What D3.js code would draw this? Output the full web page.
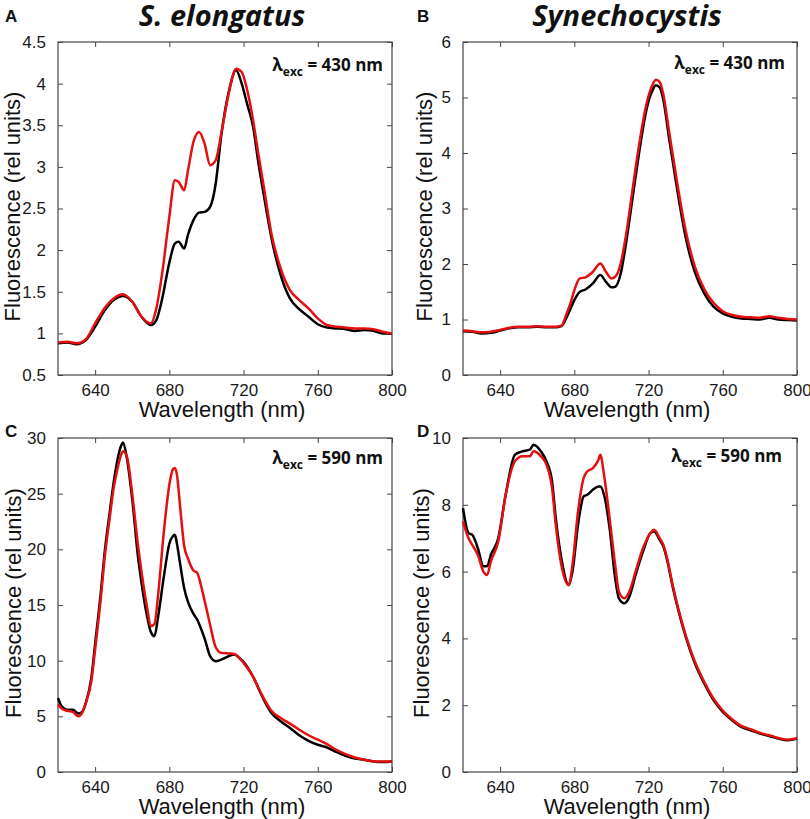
<!DOCTYPE html>
<html><head><meta charset="utf-8">
<script src="https://cdn.jsdelivr.net/npm/d3@7"></script>
<style>
html,body{margin:0;padding:0;background:#fff;}
svg{display:block;}
</style></head>
<body>
<script>
// ---------------- DATA ----------------
const xTicks = [640, 680, 720, 760, 800];

const wlA = [620,625,630,635,640,645,650,655,660,665,670,673,676,680,683,685,688,690,693,696,699,702,705,708,712,716,719,722,725,728,731,735,740,745,750,755,760,765,770,775,780,785,790,795,800];
const blackA = [.88,.89,.87,.92,1.08,1.27,1.40,1.45,1.38,1.20,1.10,1.16,1.40,1.85,2.08,2.10,2.02,2.18,2.36,2.45,2.46,2.52,2.80,3.38,3.90,4.16,4.00,3.75,3.50,3.05,2.65,2.15,1.70,1.42,1.29,1.20,1.11,1.07,1.06,1.05,1.03,1.04,1.03,1.00,1.00];
const redA = [.89,.90,.88,.93,1.12,1.30,1.42,1.47,1.38,1.20,1.12,1.30,1.70,2.40,2.84,2.82,2.72,2.95,3.30,3.42,3.28,3.02,3.08,3.40,3.88,4.18,4.14,3.92,3.58,3.15,2.75,2.20,1.78,1.52,1.40,1.30,1.18,1.10,1.08,1.07,1.06,1.06,1.05,1.02,1.00];
const yTicksA = [0.5,1,1.5,2,2.5,3,3.5,4,4.5];

const wlB = [620,625,630,635,640,645,650,655,660,665,670,673,676,678,680,683,686,690,694,697,700,702,705,708,711,714,719,722,724,726,728,731,735,740,745,750,755,760,765,770,775,780,785,790,795,800];
const blackB = [.79,.78,.75,.76,.80,.84,.86,.86,.87,.86,.86,.88,1.05,1.20,1.35,1.50,1.54,1.65,1.80,1.68,1.58,1.59,1.83,2.40,3.10,3.80,4.80,5.12,5.22,5.18,4.95,4.28,3.43,2.48,1.85,1.47,1.23,1.11,1.05,1.02,1.01,1.00,1.03,1.00,0.99,0.98];
const redB = [.80,.79,.77,.78,.81,.85,.87,.87,.88,.87,.87,.89,1.12,1.30,1.53,1.74,1.76,1.86,2.01,1.86,1.74,1.77,2.01,2.55,3.25,3.95,4.90,5.22,5.32,5.28,5.05,4.40,3.55,2.60,1.95,1.55,1.30,1.15,1.08,1.05,1.04,1.03,1.06,1.03,1.01,1.00];
const yTicksB = [0,1,2,3,4,5,6];

const wlC = [620,622,625,628,631,633,635,638,640,643,645,648,650,652,654,655,657,660,663,665,668,670,672,674,677,680,682,683,684,686,688,690,693,695,697,699,702,705,708,712,715,718,720,725,730,735,740,745,750,755,760,765,770,775,780,785,790,795,800];
const blackC = [6.65,5.9,5.6,5.6,5.25,5.4,6.2,8.5,11.5,16.0,19.5,23.5,26.0,28.0,29.3,29.6,28.3,24.5,19.5,17.0,14.0,12.6,12.2,14.0,17.5,20.5,21.2,21.3,20.6,18.5,16.5,15.3,14.2,13.7,12.9,12.0,10.4,9.95,10.1,10.4,10.55,10.2,9.9,8.6,6.8,5.3,4.55,3.95,3.3,2.8,2.45,2.2,1.8,1.45,1.2,1.1,0.95,0.9,0.95];
const redC = [6.05,5.7,5.5,5.4,5.0,5.3,6.2,8.2,11.0,15.5,19.0,23.0,25.5,27.2,28.5,28.8,28.4,25.0,20.5,18.0,14.8,13.1,13.3,16.0,21.5,25.8,27.2,27.3,26.8,23.5,20.3,19.2,18.1,17.9,16.8,15.4,13.2,11.2,10.7,10.65,10.6,10.2,9.8,8.6,6.9,5.5,4.85,4.35,3.8,3.3,2.9,2.5,2.0,1.6,1.3,1.1,0.95,0.95,0.95];
const yTicksC = [0,5,10,15,20,25,30];

const wlD = [620,623,625,628,631,633,635,639,643,648,652,656,658,662,665,668,670,673,677,679,682,685,687,690,693,694,696,699,702,704,707,710,713,717,721,723,726,728,730,733,736,740,745,750,755,760,765,770,775,780,785,790,795,800];
const blackD = [7.9,7.15,7.1,6.7,6.16,6.16,6.5,7.0,8.3,9.5,9.6,9.65,9.8,9.6,9.3,8.7,7.6,6.4,5.6,6.0,7.4,8.25,8.3,8.45,8.55,8.55,8.3,7.3,5.8,5.2,5.05,5.3,5.9,6.6,7.15,7.2,6.95,6.75,6.35,5.55,4.85,4.05,3.25,2.65,2.15,1.8,1.55,1.35,1.25,1.15,1.08,1.0,0.95,1.0];
const redD = [7.5,7.0,6.8,6.5,6.0,5.9,6.3,6.9,8.3,9.3,9.45,9.45,9.6,9.45,9.2,8.5,7.4,6.2,5.6,6.2,7.8,8.8,9.0,9.1,9.35,9.5,8.9,7.6,6.2,5.4,5.2,5.45,6.0,6.7,7.15,7.25,7.0,6.8,6.4,5.6,4.9,4.1,3.3,2.7,2.2,1.84,1.58,1.38,1.28,1.17,1.1,1.02,0.97,1.02];
const yTicksD = [0,2,4,6,8,10];

const titles = ["S. elongatus", "Synechocystis"];
const excLabels = ["430", "430", "590", "590"];
const panelLetters = ["A", "B", "C", "D"];

// ---------------- LAYOUT ----------------
const W = 810, H = 819;
const panels = [
  {wl: wlA, black: blackA, red: redA, yDomain: [0.5, 4.5], yTicks: yTicksA,
   L: 58, T: 42, R: 392, B: 375, ylabX: 20, letterX: 5, letterY: 22, excX: 383, excY: 71},
  {wl: wlB, black: blackB, red: redB, yDomain: [0, 6], yTicks: yTicksB,
   L: 463, T: 42, R: 797, B: 375, ylabX: 432, letterX: 417, letterY: 22, excX: 785, excY: 69},
  {wl: wlC, black: blackC, red: redC, yDomain: [0, 30], yTicks: yTicksC,
   L: 58, T: 438, R: 392, B: 772, ylabX: 21, letterX: 5, letterY: 437, excX: 383, excY: 464},
  {wl: wlD, black: blackD, red: redD, yDomain: [0, 10], yTicks: yTicksD,
   L: 463, T: 438, R: 797, B: 772, ylabX: 429, letterX: 417, letterY: 437, excX: 782, excY: 462}
];

const svg = d3.select("body").append("svg").attr("width", W).attr("height", H)
  .attr("font-family", "'Liberation Sans', Arial, sans-serif");

const axisColor = "#444";

panels.forEach((p, i) => {
  const x = d3.scaleLinear().domain([620, 800]).range([p.L, p.R]);
  const y = d3.scaleLinear().domain(p.yDomain).range([p.B, p.T]);
  const g = svg.append("g");

  const styleAxis = sel => {
    sel.select(".domain").remove();
    sel.selectAll(".tick line").attr("stroke", axisColor).attr("stroke-width", 1);
    sel.selectAll(".tick text").attr("fill", "#1a1a1a").attr("font-size", 17)
      .attr("font-family", "'Liberation Sans', Arial, sans-serif");
  };
  g.append("g").attr("transform", `translate(0,${p.B})`)
    .call(d3.axisBottom(x).tickValues(xTicks).tickSizeInner(-5).tickSizeOuter(0).tickPadding(9).tickFormat(d3.format("d")))
    .call(styleAxis);
  g.append("g").attr("transform", `translate(0,${p.T})`)
    .call(d3.axisTop(x).tickValues(xTicks).tickSizeInner(-5).tickSizeOuter(0).tickFormat(""))
    .call(styleAxis);
  g.append("g").attr("transform", `translate(${p.L},0)`)
    .call(d3.axisLeft(y).tickValues(p.yTicks).tickSizeInner(-5).tickSizeOuter(0).tickPadding(12).tickFormat(d => String(d)))
    .call(styleAxis);
  g.append("g").attr("transform", `translate(${p.R},0)`)
    .call(d3.axisRight(y).tickValues(p.yTicks).tickSizeInner(-5).tickSizeOuter(0).tickFormat(""))
    .call(styleAxis);

  g.append("rect").attr("x", p.L).attr("y", p.T).attr("width", p.R - p.L).attr("height", p.B - p.T)
    .attr("fill", "none").attr("stroke", axisColor).attr("stroke-width", 1.2);

  const mk = vals => d3.line().curve(d3.curveMonotoneX)
    .x((d, k) => x(p.wl[k])).y(d => y(d))(vals);
  g.append("path").attr("d", mk(p.black)).attr("fill", "none").attr("stroke", "#000").attr("stroke-width", 2.5).attr("stroke-linejoin", "round");
  g.append("path").attr("d", mk(p.red)).attr("fill", "none").attr("stroke", "#e3100f").attr("stroke-width", 2.5).attr("stroke-linejoin", "round");

  const cx = (p.L + p.R) / 2 - 3, cy = (p.T + p.B) / 2 - 2;
  g.append("text").attr("x", cx).attr("y", p.B + 42).attr("text-anchor", "middle")
    .attr("font-size", 22).attr("fill", "#111").text("Wavelength (nm)");
  g.append("text").attr("transform", `translate(${p.ylabX},${cy}) rotate(-90)`).attr("text-anchor", "middle")
    .attr("font-size", 22).attr("fill", "#111").text("Fluorescence (rel units)");

  g.append("text").attr("x", p.letterX).attr("y", p.letterY).attr("font-size", 17).attr("font-weight", "bold")
    .attr("fill", "#111").text(panelLetters[i]);

  const t = g.append("text").attr("x", p.excX).attr("y", p.excY).attr("text-anchor", "end")
    .attr("font-family", "'Open Sans', sans-serif").attr("font-weight", "bold").attr("font-size", 17).attr("fill", "#111");
  t.append("tspan").text("λ");
  t.append("tspan").attr("font-size", 12).attr("dy", 5).text("exc");
  t.append("tspan").attr("dy", -5).text(` = ${excLabels[i]} nm`);

  if (i < 2) {
    g.append("text").attr("x", cx).attr("y", 26).attr("text-anchor", "middle")
      .attr("font-family", "'Open Sans', sans-serif").attr("font-weight", "bold").attr("font-style", "italic")
      .attr("font-size", 29).attr("fill", "#111").text(titles[i]);
  }
});
</script>
</body></html>
